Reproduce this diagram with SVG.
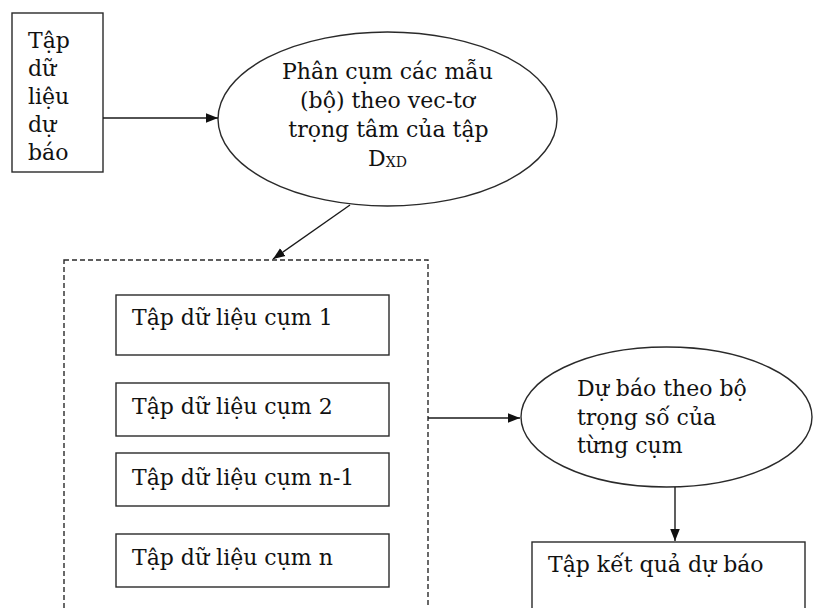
<svg xmlns="http://www.w3.org/2000/svg" width="813" height="608" viewBox="0 0 813 608">
<style>
.box{fill:#fff;stroke:#2a2a2a;stroke-width:1.4}
.dash{fill:none;stroke:#2a2a2a;stroke-width:1.4;stroke-dasharray:5 3}
.t{font-family:"DejaVu Serif",serif;font-size:22px;fill:#111}
.c{text-anchor:middle}
.conn{stroke:#1a1a1a;stroke-width:1.4;fill:none;marker-end:url(#ah)}
</style>
<defs>
<marker id="ah" viewBox="0 0 10 10" refX="10" refY="5" markerWidth="12" markerHeight="12" markerUnits="userSpaceOnUse" orient="auto">
<path d="M0,1 L10,5 L0,9 Z" fill="#111"/>
</marker>
</defs>
<rect width="813" height="608" fill="#fff"/>
<g id="input">
<rect class="box" x="12" y="13" width="91" height="159"/>
<text class="t" x="28" y="48">Tập</text>
<text class="t" x="28" y="76">dữ</text>
<text class="t" x="28" y="104">liệu</text>
<text class="t" x="28" y="132">dự</text>
<text class="t" x="28" y="160">báo</text>
</g>
<g id="cluster">
<ellipse class="box" cx="387.5" cy="119" rx="169.5" ry="87"/>
<text class="t c" x="387.5" y="79">Phân cụm các mẫu</text>
<text class="t c" x="387.5" y="108">(bộ) theo vec-tơ</text>
<text class="t c" x="388.5" y="137">trọng tâm của tập</text>
<text class="t c" x="387.5" y="166">D<tspan font-size="14" dy="1">XD</tspan></text>
</g>
<g id="clusters">
<rect class="dash" x="64" y="260" width="364" height="370"/>
</g>
<g id="cum1">
<rect class="box" x="116" y="295" width="273" height="60"/>
<text class="t" x="132" y="325">Tập dữ liệu cụm 1</text>
</g>
<g id="cum2">
<rect class="box" x="116" y="383" width="273" height="53"/>
<text class="t" x="132" y="414">Tập dữ liệu cụm 2</text>
</g>
<g id="cumn1">
<rect class="box" x="116" y="453" width="273" height="53"/>
<text class="t" x="132" y="485">Tập dữ liệu cụm n-1</text>
</g>
<g id="cumn">
<rect class="box" x="116" y="534" width="273" height="53"/>
<text class="t" x="132" y="565">Tập dữ liệu cụm n</text>
</g>
<g id="predict">
<ellipse class="box" cx="666.5" cy="417" rx="145.5" ry="70"/>
<text class="t" x="577" y="396">Dự báo theo bộ</text>
<text class="t" x="577" y="425">trọng số của</text>
<text class="t" x="577" y="453">từng cụm</text>
</g>
<g id="result">
<rect class="box" x="532" y="542" width="273" height="90"/>
<text class="t" x="548" y="572">Tập kết quả dự báo</text>
</g>
<g id="connectors">
<line class="conn" x1="103" y1="118" x2="218" y2="118"/>
<line class="conn" x1="350" y1="205" x2="273" y2="259"/>
<line class="conn" x1="428" y1="418" x2="520" y2="418"/>
<line class="conn" x1="675" y1="487" x2="675" y2="541"/>
</g>
</svg>
